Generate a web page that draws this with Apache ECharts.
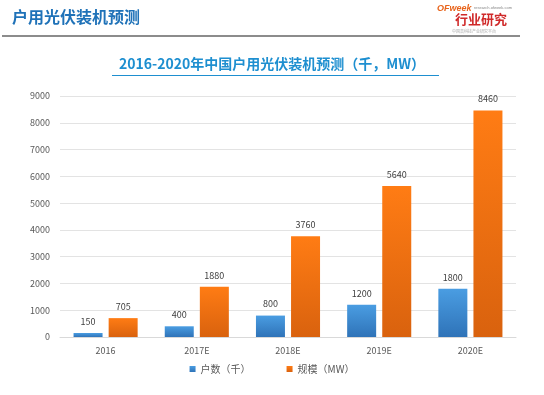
<!DOCTYPE html>
<html><head><meta charset="utf-8">
<script src="https://cdn.jsdelivr.net/npm/echarts@6/dist/echarts.min.js"></script>
<style>html,body{margin:0;padding:0;background:#fff;}#c{width:544px;height:395px;}</style>
</head><body><div id="c"></div>
<script>
var categories = ['2016', '2017E', '2018E', '2019E', '2020E'];
var households = [150, 400, 800, 1200, 1800];
var capacity = [705, 1880, 3760, 5640, 8460];
var seriesNames = ['户数（千）', '规模（MW）'];
var yTicks = {min: 0, max: 9000, interval: 1000};

var chart = echarts.init(document.getElementById('c'));
var blueGrad = new echarts.graphic.LinearGradient(0,0,0,1,[{offset:0,color:'#4a9de2'},{offset:1,color:'#2f73b8'}]);
var orangeGrad = new echarts.graphic.LinearGradient(0,0,0,1,[{offset:0,color:'#ff7c14'},{offset:1,color:'#d9620e'}]);
chart.setOption({
  animation: false,
  textStyle: {fontFamily: 'Noto Sans CJK SC, sans-serif'},
  graphic: [
    {type:'text', left: 12, top: 9, style:{text:'户用光伏装机预测', fill:'#1f72b8', font:'bold 16px "Noto Sans CJK SC"'}},
    {type:'rect', shape:{x:2, y:35, width:518, height:2}, style:{fill:'#8c8c8c'}},
    {type:'text', left: 437, top: 4, style:{text:'OFweek', fill:'#e8641b', font:'italic bold 9px sans-serif'}},
    {type:'text', left: 474, top: 6, style:{text:'research.ofweek.com', fill:'#888', font:'4px sans-serif'}},
    {type:'text', left: 455, top: 13, style:{text:'行业研究', fill:'#d02a2a', font:'bold 13px "Noto Sans CJK SC"'}},
    {type:'text', left: 452, top: 29, style:{text:'中国高科技产业研究平台', fill:'#aaa', font:'4px "Noto Sans CJK SC"'}},
    {type:'text', left: 'center', top: 57, style:{text:'2016-2020年中国户用光伏装机预测（千，MW）', fill:'#1e8fd0', font:'bold 14px "Noto Sans CJK SC"'}},
    {type:'rect', shape:{x:112, y:75, width:327, height:1}, style:{fill:'#1e8fd0'}}
  ],
  legend: {
    data: seriesNames, bottom: 16, left: 'center', itemWidth: 6, itemHeight: 6, itemGap: 36,
    icon: 'rect', textStyle: {color:'#595959', fontSize: 10, letterSpacing: 2}
  },
  grid: {left: 60, right: 28, top: 96, bottom: 58},
  xAxis: {
    type: 'category', data: categories,
    axisLine: {lineStyle:{color:'#d9d9d9'}}, axisTick: {show:false},
    axisLabel: {color:'#595959', fontSize: 9, margin: 9}
  },
  yAxis: {
    type: 'value', min: yTicks.min, max: yTicks.max, interval: yTicks.interval,
    axisLine: {show:false}, axisTick: {show:false},
    axisLabel: {color:'#595959', fontSize: 9, margin: 10, formatter: function(v){ return String(v); }},
    splitLine: {lineStyle:{color:'#e3e3e3'}}
  },
  series: [
    {name: seriesNames[0], type:'bar', data: households, barWidth: 29, barGap: '21%',
     itemStyle:{color: blueGrad},
     label:{show:true, position:'top', color:'#404040', fontSize: 9, distance: 7}},
    {name: seriesNames[1], type:'bar', data: capacity, barWidth: 29,
     itemStyle:{color: orangeGrad},
     label:{show:true, position:'top', color:'#404040', fontSize: 9, distance: 7}}
  ],
  color: ['#3a8ad4', '#f07418']
});
</script></body></html>
